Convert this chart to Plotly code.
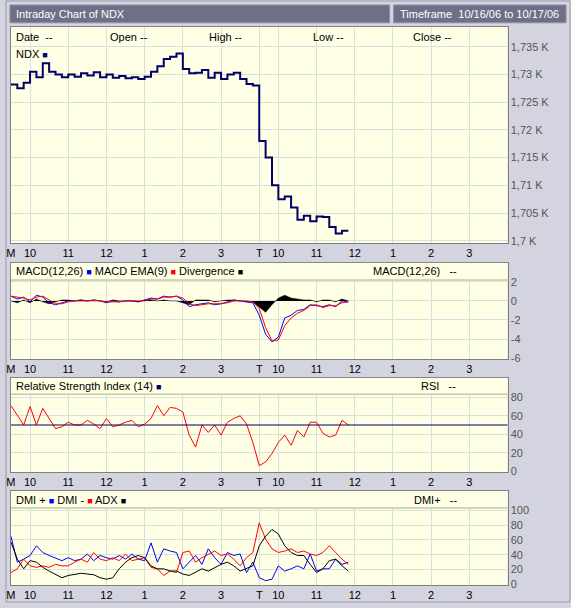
import plotly.graph_objects as go
from plotly.subplots import make_subplots

W, H = 571, 608
FONT = "Liberation Sans"

# minutes since the open; day 2 continues at 390
minutes = list(range(0, 390, 10)) + list(range(390, 540, 10))

ndx = [1728.2, 1727.5, 1728.5, 1730.5, 1729.5, 1732.0, 1730.5, 1730.0, 1729.5, 1730.0,
       1729.6, 1730.2, 1729.8, 1730.4, 1729.5, 1730.0, 1729.4, 1729.7, 1729.3, 1729.5,
       1729.2, 1729.6, 1730.5, 1731.5, 1732.8, 1733.2, 1733.8, 1731.0, 1730.2, 1730.3,
       1730.8, 1729.4, 1730.3, 1729.2, 1730.0, 1730.3, 1729.2, 1728.3, 1728.0,
       1718.0, 1715.0, 1710.0, 1707.5, 1708.0, 1706.0, 1703.8, 1704.5, 1703.5, 1704.4,
       1704.3, 1702.5, 1701.3, 1701.8, 1701.8]

macd = [0.5, 0.2, 0.4, -0.1, 0.6, 0.4, -0.2, -0.4, -0.2, 0.0,
        0.0, 0.1, 0.0, 0.1, 0.0, -0.2, 0.0, -0.1, 0.0, 0.0,
        -0.1, 0.1, 0.3, 0.2, 0.5, 0.4, 0.5, 0.1, -0.6, -0.4,
        -0.3, -0.2, -0.4, -0.3, -0.1, 0.1, 0.0, -0.1, -0.2,
        -1.5, -3.5, -4.3, -3.8, -1.8, -1.5, -1.0, -0.9, -0.4, -0.5,
        -0.6, -0.4, -0.6, 0.0, -0.1]
macd_ema = [0.5, 0.4, 0.3, 0.1, 0.4, 0.5, 0.1, -0.3, -0.3, -0.1,
            0.0, 0.0, 0.0, 0.1, 0.0, -0.1, -0.1, -0.1, 0.0, 0.0,
            0.0, 0.0, 0.2, 0.2, 0.4, 0.4, 0.5, 0.3, -0.3, -0.5,
            -0.4, -0.3, -0.3, -0.3, -0.2, 0.0, 0.0, 0.0, -0.1,
            -0.8, -2.8, -4.2, -4.1, -2.6, -1.8, -1.3, -1.0, -0.5, -0.4,
            -0.7, -0.5, -0.5, -0.2, -0.1]
divergence = [0.0, -0.2, 0.1, -0.2, 0.2, -0.1, -0.3, -0.1, 0.1, 0.1,
              0.0, 0.1, 0.0, 0.0, 0.0, -0.1, 0.1, 0.0, 0.0, 0.0,
              -0.1, 0.1, 0.1, 0.0, 0.1, 0.0, 0.0, -0.2, -0.4, 0.1,
              0.1, 0.1, -0.1, 0.0, 0.1, 0.1, 0.0, -0.1, -0.1,
              -0.7, -1.2, -0.4, 0.3, 0.6, 0.3, 0.2, 0.1, 0.1, -0.1,
              0.1, 0.1, -0.1, 0.2, 0.0]

rsi = [71, 60, 50, 70, 50, 68, 57, 46, 48, 53,
       50, 50, 55, 51, 46, 57, 48, 50, 53, 55,
       48, 51, 57, 71, 60, 69, 68, 64, 39, 26,
       50, 42, 50, 39, 53, 57, 60, 51, 31,
       6, 10, 19, 31, 39, 28, 44, 37, 53, 53,
       41, 37, 39, 55, 50]

dmi_plus = [65, 30, 34, 39, 52, 43, 39, 36, 32, 36,
            32, 34, 41, 32, 39, 36, 34, 39, 34, 41,
            34, 32, 56, 30, 48, 45, 43, 21, 30, 39,
            27, 48, 36, 27, 43, 39, 41, 16, 30,
            9, 5, 7, 25, 18, 21, 25, 21, 41, 18,
            21, 21, 34, 27, 30]
dmi_minus = [16, 21, 34, 25, 23, 25, 23, 27, 25, 25,
             30, 34, 30, 43, 34, 32, 36, 32, 41, 32,
             34, 36, 23, 21, 12, 18, 16, 43, 45, 30,
             36, 41, 45, 39, 41, 34, 25, 36, 43,
             83, 61, 48, 43, 45, 48, 43, 45, 41, 39,
             43, 52, 43, 34, 27]
adx = [57, 34, 21, 32, 30, 23, 18, 14, 9, 12,
       14, 15, 14, 13, 9, 7, 9, 21, 30, 36,
       39, 36, 25, 21, 21, 18, 18, 14, 12, 16,
       21, 18, 23, 27, 30, 25, 18, 21, 25,
       52, 65, 74, 68, 52, 43, 39, 39, 27, 16,
       21, 32, 34, 25, 18]

hour_vals = [0, 30, 90, 150, 210, 270, 330, 390, 420, 480, 540, 600, 660, 720]
hour_text = ["M", "10", "11", "12", "1", "2", "3", "T", "10", "11", "12", "1", "2", "3"]
price_ticks = [1700, 1705, 1710, 1715, 1720, 1725, 1730, 1735]
price_text = ["1,7 K", "1,705 K", "1,71 K", "1,715 K", "1,72 K", "1,725 K", "1,73 K", "1,735 K"]

BG = "#D4D4E0"
PLOT_BG = "#FFFFE6"
GRID = "#D6E0E0"
BAR = "#6E7087"


def py(px):
    return 1 - px / H


def pxx(px):
    return px / W


panels = [(27, 245), (265, 362), (381, 476), (495, 590)]
X0, X1 = 6, 507

fig = make_subplots(rows=4, cols=1, shared_xaxes=False)

fig.add_trace(go.Scatter(x=minutes, y=ndx, mode="lines", line=dict(color="#000066", width=2, shape="hv")), row=1, col=1)
fig.add_trace(go.Scatter(x=minutes, y=divergence, mode="lines", line=dict(color="black", width=0.5),
                         fill="tozeroy", fillcolor="black"), row=2, col=1)
fig.add_trace(go.Scatter(x=minutes, y=macd, mode="lines", line=dict(color="#0000FF", width=1)), row=2, col=1)
fig.add_trace(go.Scatter(x=minutes, y=macd_ema, mode="lines", line=dict(color="#FF0000", width=1)), row=2, col=1)
fig.add_trace(go.Scatter(x=minutes, y=rsi, mode="lines", line=dict(color="#FF0000", width=1)), row=3, col=1)
fig.add_trace(go.Scatter(x=minutes, y=dmi_plus, mode="lines", line=dict(color="#0000FF", width=1)), row=4, col=1)
fig.add_trace(go.Scatter(x=minutes, y=dmi_minus, mode="lines", line=dict(color="#FF0000", width=1)), row=4, col=1)
fig.add_trace(go.Scatter(x=minutes, y=adx, mode="lines", line=dict(color="black", width=1)), row=4, col=1)

yranges = [[1699.6, 1738.6], [-6.1, 4.0], [-1, 101], [-1, 126]]
yticks = [(price_ticks, price_text), ([2, 0, -2, -4, -6], ["2", "0", "-2", "-4", "-6"]),
          ([0, 20, 40, 60, 80], ["0", "20", "40", "60", "80"]),
          ([0, 20, 40, 60, 80, 100], ["0", "20", "40", "60", "80", "100"])]
headers = [None, 2.2, 83.3, 103]

shapes = []
for i, (top, bot) in enumerate(panels):
    r = i + 1
    fig.update_xaxes(row=r, col=1, domain=[pxx(X0), pxx(X1)], range=[0, 780],
                     tickvals=hour_vals, ticktext=hour_text, showgrid=True, gridcolor=GRID,
                     zeroline=False, ticks="", showline=True, linecolor="#808080", mirror=True,
                     tickfont=dict(size=11, color="black", family=FONT))
    fig.update_yaxes(row=r, col=1, domain=[py(bot), py(top)], range=yranges[i], side="right",
                     tickvals=yticks[i][0], ticktext=yticks[i][1], showgrid=True, gridcolor=GRID,
                     zeroline=False, ticks="", showline=True, linecolor="#808080", mirror=True,
                     tickfont=dict(size=11, color="#555555", family=FONT))
    if headers[i] is not None:
        xref = "x" if r == 1 else f"x{r}"
        yref = "y" if r == 1 else f"y{r}"
        shapes.append(dict(type="rect", xref=f"{xref} domain", yref=yref, x0=0, x1=1,
                           y0=headers[i], y1=yranges[i][1], fillcolor=PLOT_BG, line_width=0, layer="above"))
        shapes.append(dict(type="line", xref=f"{xref} domain", yref=yref, x0=0, x1=1,
                           y0=headers[i], y1=headers[i], line=dict(color="#C8C8A0", width=1.5), layer="above"))

shapes.append(dict(type="line", xref="x3 domain", yref="y3", x0=0, x1=1, y0=50, y1=50,
                   line=dict(color="#000066", width=1.2)))
# title bars
shapes.append(dict(type="rect", xref="paper", yref="paper", x0=pxx(5), x1=pxx(388), y0=py(23), y1=py(5),
                   fillcolor=BAR, line=dict(color="#9090A0", width=1)))
shapes.append(dict(type="rect", xref="paper", yref="paper", x0=pxx(392), x1=pxx(566), y0=py(23), y1=py(5),
                   fillcolor=BAR, line=dict(color="#9090A0", width=1)))
shapes.append(dict(type="rect", xref="paper", yref="paper", x0=pxx(1), x1=pxx(570), y0=py(607), y1=py(1),
                   line=dict(color="#9A9AA8", width=1), layer="below"))


def ann(x, y, text, color="black", size=11, anchor="left"):
    return dict(x=pxx(x), y=py(y), xref="paper", yref="paper", text=text, showarrow=False,
                xanchor=anchor, yanchor="middle", font=dict(size=size, color=color, family=FONT))


SQ = "<span style='font-size:9px'>&#9632;</span>"
annotations = [
    ann(9, 14, "Intraday Chart of NDX", "white"),
    ann(396, 14, "Timeframe&nbsp;&nbsp;10/16/06 to 10/17/06", "white"),
    ann(9, 37, "Date&nbsp;&nbsp;--"), ann(104, 37, "Open --"), ann(204, 37, "High --"),
    ann(309, 37, "Low --"), ann(410, 37, "Close --"),
    ann(9, 54, f"NDX <span style='color:#000066'>{SQ}</span>"),
    ann(9, 273, f"MACD(12,26) <span style='color:#0000FF'>{SQ}</span> MACD EMA(9) "
                f"<span style='color:#FF0000'>{SQ}</span> Divergence {SQ}"),
    ann(369, 273, "MACD(12,26)&nbsp;&nbsp;&nbsp;--"),
    ann(9, 389, f"Relative Strength Index (14) <span style='color:#000066'>{SQ}</span>"),
    ann(418, 389, "RSI&nbsp;&nbsp;&nbsp;--"),
    ann(9, 504, f"DMI + <span style='color:#0000FF'>{SQ}</span> DMI - "
                f"<span style='color:#FF0000'>{SQ}</span> ADX {SQ}"),
    ann(411, 504, "DMI+&nbsp;&nbsp;&nbsp;--"),
]

fig.update_layout(width=W, height=H, margin=dict(l=0, r=0, t=0, b=0), showlegend=False,
                  paper_bgcolor=BG, plot_bgcolor=PLOT_BG, shapes=shapes, annotations=annotations,
                  font=dict(family=FONT, size=11))
fig.write_html("out.html", config={"displayModeBar": False})

# drop the default page margin so the figure sits flush in the window
with open("out.html", encoding="utf-8") as f:
    page = f.read()
page = page.replace("<head>", "<head><style>html,body{margin:0;padding:0;overflow:hidden}</style>", 1)
with open("out.html", "w", encoding="utf-8") as f:
    f.write(page)
